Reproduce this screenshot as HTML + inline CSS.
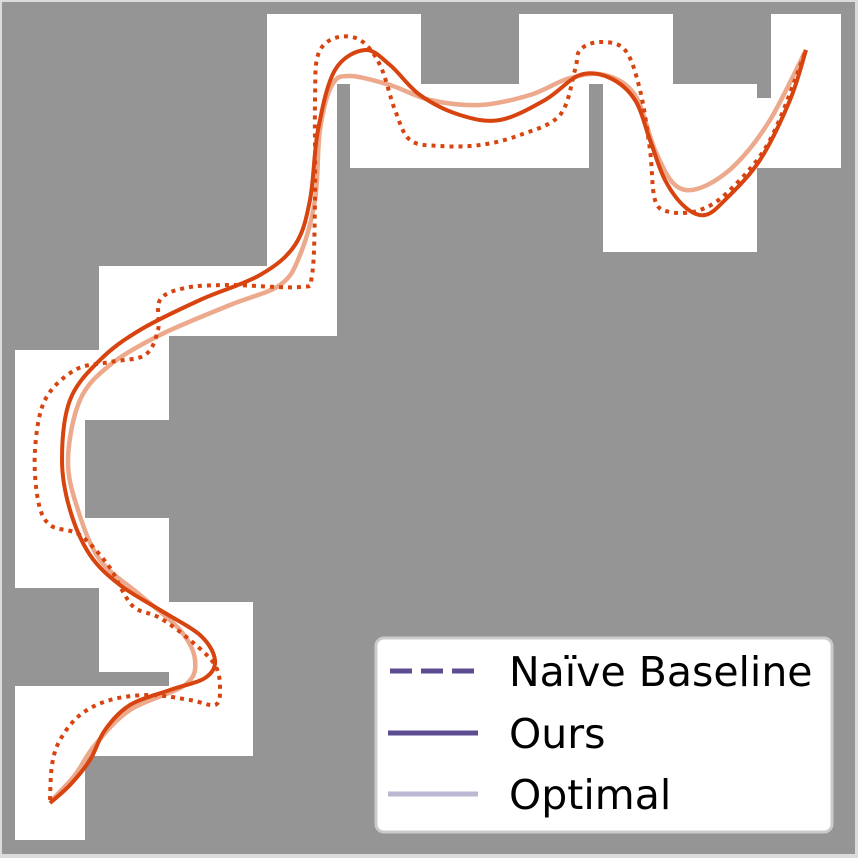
<!DOCTYPE html>
<html><head><meta charset="utf-8"><style>
html,body{margin:0;padding:0;background:#fff}
svg{display:block}
text{font-family:"DejaVu Sans","Liberation Sans",sans-serif}
</style></head><body>
<svg id="chart" width="858" height="858" viewBox="0 0 858 858">
<rect x="0" y="0" width="858" height="858" fill="#dcdcdc"/>
<rect x="2" y="2" width="853" height="852" fill="#959595"/>
<g id="free"></g>
<g id="curves"></g>
<g>
<rect x="376" y="638" width="456" height="194" rx="8" fill="#fff" stroke="#cccccc" stroke-width="3"/>
<line x1="390" y1="671" x2="478" y2="671" stroke="#5e4c91" stroke-width="5" stroke-dasharray="22,9"/>
<text x="509" y="686" font-size="41" fill="#000">Naïve Baseline</text>
<line x1="388" y1="733" x2="478" y2="733" stroke="#5e4c91" stroke-width="5"/>
<text x="509" y="748" font-size="41" fill="#000">Ours</text>
<line x1="388" y1="794" x2="478" y2="794" stroke="#bcb7d3" stroke-width="5"/>
<text x="509" y="809" font-size="41" fill="#000">Optimal</text>
</g>
</svg>
<script>
const freeRects=[[267,14,421,84],[267,84,337,336],[350,84,589,168],[519,14,673,84],[603,84,757,252],[687,98,771,168],[771,14,841,168],
[99,266,337,336],[99,336,169,420],[15,350,99,420],[15,420,85,588],[15,518,169,588],[99,588,169,672],[169,602,253,756],[15,686,183,756],[15,756,85,840]];
const optimalX=[52,75,95,130,185,195,180,140,100,78,68,80,110,160,230,280,300,315,320,332,350,390,430,480,530,570,605,635,655,675,700,735,770,806];
const optimalY=[800,775,745,710,685,660,630,595,560,510,460,400,365,335,305,285,255,200,130,85,76,85,100,105,95,78,75,95,150,185,188,165,120,50];
const oursX=[50,70,90,105,130,170,205,215,200,160,120,90,70,62,70,100,140,200,260,295,310,318,335,365,390,420,460,500,545,580,610,635,650,665,685,705,725,760,790,806];
const oursY=[803,785,760,730,705,690,678,660,635,610,585,555,510,460,400,360,330,300,275,245,200,130,70,50,65,95,115,120,100,75,78,100,140,180,207,215,200,160,100,50];
const baseX=[50,52,60,80,110,150,190,215,220,215,190,160,135,122,108,80,50,38,35,45,75,110,145,158,160,185,230,300,312,315,315,318,335,360,380,395,410,440,480,520,560,575,580,600,625,640,650,655,670,700,730,770,806];
const baseY=[800,765,740,715,700,695,700,705,690,665,640,618,608,590,565,535,525,500,450,400,370,362,355,330,300,288,285,287,275,200,100,55,38,40,65,110,140,146,145,135,115,70,50,42,50,90,150,200,212,210,190,140,50];
const NS='http://www.w3.org/2000/svg';
const free=document.getElementById('free');
freeRects.forEach(r=>{
  const el=document.createElementNS(NS,'rect');
  el.setAttribute('x',r[0]);el.setAttribute('y',r[1]);
  el.setAttribute('width',r[2]-r[0]);el.setAttribute('height',r[3]-r[1]);
  el.setAttribute('fill','#fff');
  
  
  free.appendChild(el);
});
function pathD(xs,ys){
  let d='M'+xs[0]+','+ys[0];
  for(let i=0;i<xs.length-1;i++){
    const x0=xs[Math.max(i-1,0)],y0=ys[Math.max(i-1,0)];
    const x1=xs[i],y1=ys[i],x2=xs[i+1],y2=ys[i+1];
    const x3=xs[Math.min(i+2,xs.length-1)],y3=ys[Math.min(i+2,xs.length-1)];
    d+=' C'+(x1+(x2-x0)/6)+','+(y1+(y2-y0)/6)+' '+(x2-(x3-x1)/6)+','+(y2-(y3-y1)/6)+' '+x2+','+y2;
  }
  return d;
}
const cg=document.getElementById('curves');
function add(xs,ys,stroke,w,dash,name){
  const p=document.createElementNS(NS,'path');
  p.setAttribute('d',pathD(xs,ys));
  p.setAttribute('fill','none');p.setAttribute('stroke',stroke);
  p.setAttribute('stroke-width',w);
  if(dash)p.setAttribute('stroke-dasharray',dash);
  
  
  cg.appendChild(p);
}
add(optimalX,optimalY,'#eca98c',4.5,null,'optimal-path');
add(oursX,oursY,'#d8440f',4,null,'ours-path');
add(baseX,baseY,'#d8440f',4,'4,5','naive-baseline-path');
</script>
</body></html>
